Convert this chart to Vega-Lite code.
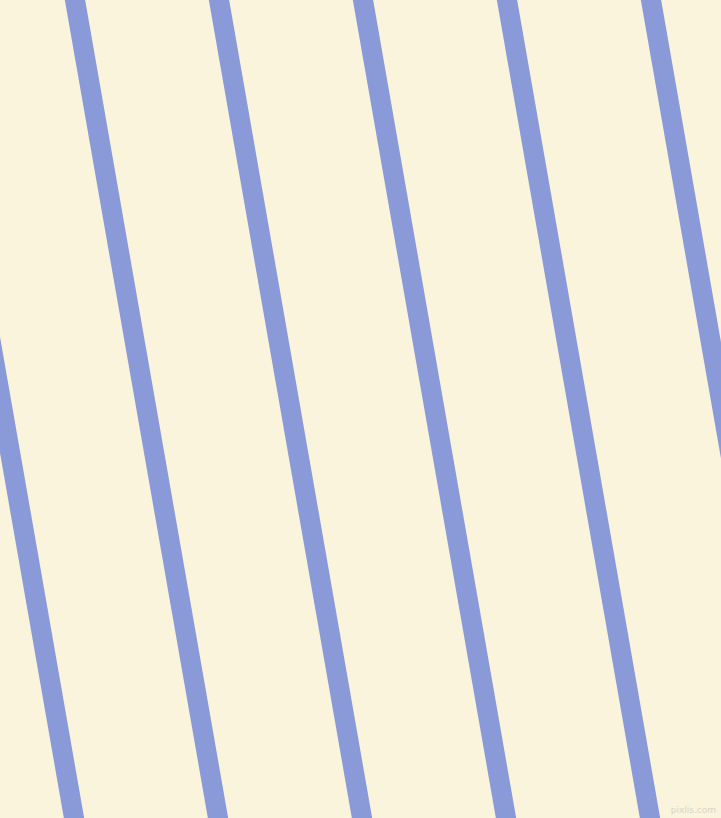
{
  "$schema": "https://vega.github.io/schema/vega-lite/v6.json",
  "width": 721,
  "height": 818,
  "padding": 0,
  "autosize": {"type": "fit", "contains": "padding"},
  "background": "#FAF4DC",
  "config": {"view": {"stroke": null}},
  "layer": [
    {
      "data": {
        "values": [
          {"stripe": 0, "x1": -76, "y1": -40, "x2": 81, "y2": 858},
          {"stripe": 1, "x1": 68, "y1": -40, "x2": 225, "y2": 858},
          {"stripe": 2, "x1": 212, "y1": -40, "x2": 369, "y2": 858},
          {"stripe": 3, "x1": 356, "y1": -40, "x2": 513, "y2": 858},
          {"stripe": 4, "x1": 500, "y1": -40, "x2": 657, "y2": 858},
          {"stripe": 5, "x1": 644, "y1": -40, "x2": 801, "y2": 858}
        ]
      },
      "mark": {"type": "rule", "color": "#8A99D8", "strokeWidth": 20, "strokeCap": "butt", "clip": true},
      "encoding": {
        "x": {"field": "x1", "type": "quantitative", "scale": {"domain": [0, 721], "nice": false, "zero": false}, "axis": null},
        "x2": {"field": "x2"},
        "y": {"field": "y1", "type": "quantitative", "scale": {"domain": [818, 0], "nice": false, "zero": false}, "axis": null},
        "y2": {"field": "y2"}
      }
    },
    {
      "data": {"values": [{"label": "pixlis.com", "px": 716, "py": 810}]},
      "mark": {"type": "text", "align": "right", "baseline": "middle", "fontSize": 9, "font": "DejaVu Sans", "color": "#D0CCC0", "opacity": 0.8},
      "encoding": {
        "x": {"field": "px", "type": "quantitative", "scale": {"domain": [0, 721], "nice": false, "zero": false}, "axis": null},
        "y": {"field": "py", "type": "quantitative", "scale": {"domain": [818, 0], "nice": false, "zero": false}, "axis": null},
        "text": {"field": "label"}
      }
    }
  ]
}
